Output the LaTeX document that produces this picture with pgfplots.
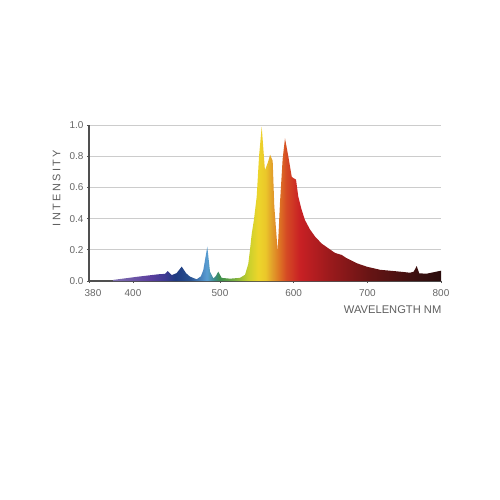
\documentclass[border=0pt]{standalone}
\usepackage{fontspec}
\setmainfont{Liberation Sans}
\usepackage{pgfplots}
\pgfplotsset{compat=1.18}
\definecolor{axgray}{HTML}{505050}
\definecolor{labgray}{HTML}{5E5E5E}
\definecolor{tickgray}{HTML}{666666}
\definecolor{gridgray}{HTML}{CCCCCC}
\definecolor{c0}{HTML}{8070B0}
\definecolor{c1}{HTML}{5B3F9E}
\definecolor{c2}{HTML}{3E3A92}
\definecolor{c3}{HTML}{1F3A80}
\definecolor{c4}{HTML}{28508F}
\definecolor{c5}{HTML}{5A9ED4}
\definecolor{c6}{HTML}{3C8C8A}
\definecolor{c7}{HTML}{3D8F4C}
\definecolor{c8}{HTML}{7CB040}
\definecolor{c9}{HTML}{C8D02C}
\definecolor{c10}{HTML}{EDD52B}
\definecolor{c11}{HTML}{EBC82A}
\definecolor{c12}{HTML}{E2A02A}
\definecolor{c13}{HTML}{DE7A24}
\definecolor{c14}{HTML}{D54A24}
\definecolor{c15}{HTML}{C82024}
\definecolor{c16}{HTML}{9A1A1C}
\definecolor{c17}{HTML}{661414}
\definecolor{c18}{HTML}{381010}
\definecolor{c19}{HTML}{2A0C0C}
\pgfdeclarehorizontalshading{spectrum}{100bp}{color(0bp)=(c0); color(25bp)=(c0);
 color(30.6bp)=(c1); color(32.9bp)=(c2); color(34.5bp)=(c3); color(36.7bp)=(c4);
 color(39.3bp)=(c5); color(40.4bp)=(c6); color(41.3bp)=(c7); color(43.6bp)=(c8);
 color(45.6bp)=(c9); color(47.1bp)=(c10); color(48.2bp)=(c11); color(49.2bp)=(c12);
 color(50.2bp)=(c13); color(51.4bp)=(c14); color(53.5bp)=(c15); color(58.1bp)=(c16);
 color(64.2bp)=(c17); color(71.8bp)=(c18); color(75bp)=(c19); color(100bp)=(c19)}
\pgfplotstableread{
nm intensity
391 0.007
406 0.028
429 0.043
436.8 0.046
439.9 0.064
444.5 0.038
450 0.05
456 0.092
461 0.05
465.5 0.028
473.2 0.011
478 0.03
480.8 0.07
485.4 0.22
488.5 0.06
492.3 0.017
495 0.03
498 0.06
502.3 0.02
513.6 0.015
527 0.02
534 0.04
538.4 0.11
540.7 0.2
543 0.30
546 0.39
549.8 0.54
553 0.80
556.6 0.99
561 0.71
565 0.76
568 0.81
571.5 0.77
573.7 0.48
578.3 0.19
581.4 0.50
585 0.78
588.2 0.915
592.7 0.80
597.3 0.67
599.5 0.66
603.2 0.65
606.3 0.54
610.9 0.455
615.4 0.39
622.2 0.33
629 0.285
638 0.24
647 0.21
656.1 0.18
665.2 0.167
672 0.146
685.6 0.114
699.1 0.092
717.2 0.072
744.3 0.060
757.9 0.053
763 0.060
767 0.096
770.5 0.049
780.6 0.047
800 0.066
}\spectrumdata
\begin{document}
\begin{tikzpicture}
\useasboundingbox (0bp,0bp) rectangle (500bp,-500bp);
\begin{axis}[
  at={(89bp,-125bp)}, anchor=north west,
  scale only axis, width=352bp, height=156bp,
  xmin=380, xmax=800, ymin=0, ymax=1,
  x coord trafo/.code={\pgfmathparse{ifthenelse(#1<400, 89+(#1-380)*2.2, ifthenelse(#1<500, 133+(#1-400)*0.87, 220+(#1-500)*0.73667))}},
  axis x line*=bottom, axis y line*=left,
  axis line style={draw=axgray, line width=1.2bp, -},
  xtick={380,400,500,600,700,800},
  xticklabels={\hspace*{8bp}380,400,500,600,700,800},
  ytick={0,0.2,0.4,0.6,0.8,1.0},
  yticklabel style={/pgf/number format/.cd, fixed, fixed zerofill, precision=1},
  /pgf/number format/assume math mode=true,
  tick align=outside, major tick length=2bp,
  tick style={draw=axgray, line width=0.8bp},
  ticklabel style={font=\fontsize{10}{11}\selectfont, text=tickgray},
  xticklabel style={yshift=-3bp},
  ymajorgrids, grid style={draw=gridgray, line width=0.9bp},
  clip=false,
]
\addplot[draw=none, shade, shading=spectrum] table[x=nm, y=intensity] {\spectrumdata} \closedcycle;
\end{axis}
\node[rotate=90, font=\fontsize{11}{12}\selectfont, text=labgray] at (56.5bp,-188bp) {\addfontfeature{LetterSpace=22}INTENSITY};
\node[anchor=east, font=\fontsize{11.2}{12}\selectfont, text=labgray, inner sep=0pt] at (441.5bp,-310bp) {WAVELENGTH NM};
\end{tikzpicture}
\end{document}
